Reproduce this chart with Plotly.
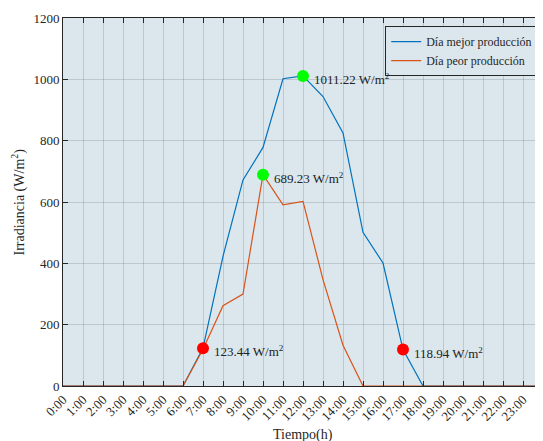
import plotly.graph_objects as go

hours = list(range(25))
tick_labels = [f"{h}:00" for h in range(24)] + [""]
best_day = [0, 0, 0, 0, 0, 0, 0, 123.44, 423, 672, 778, 1002, 1011.22, 944, 825, 501, 401, 118.94, 0, 0, 0, 0, 0, 0, 0]
worst_day = [0, 0, 0, 0, 0, 0, 0, 120, 262, 300, 689.23, 591, 602, 347, 133, 0, 0, 0, 0, 0, 0, 0, 0, 0, 0]
max_hours = [12, 10]
max_vals = [1011.22, 689.23]
edge_hours = [7, 17]
edge_vals = [123.44, 118.94]

font_family = "Liberation Serif, Times New Roman, serif"
fig = go.Figure()
fig.add_trace(go.Scatter(x=hours, y=best_day, mode="lines", name="Día mejor producción",
                         line=dict(color="#0072BD", width=1.2)))
fig.add_trace(go.Scatter(x=hours, y=worst_day, mode="lines", name="Día peor producción",
                         line=dict(color="#D95319", width=1.2)))
fig.add_trace(go.Scatter(x=max_hours, y=max_vals, mode="markers", showlegend=False,
                         marker=dict(color="#00FF00", size=12)))
fig.add_trace(go.Scatter(x=edge_hours, y=edge_vals, mode="markers", showlegend=False,
                         marker=dict(color="#FF0000", size=12)))

for xh, yv in zip(max_hours + edge_hours, max_vals + edge_vals):
    fig.add_annotation(x=xh, y=yv, text=f"{yv:.2f} W/m<sup>2</sup>", showarrow=False,
                       xanchor="left", yanchor="middle", xshift=9, yshift=-3,
                       font=dict(family=font_family, size=13, color="#222"))

fig.add_annotation(x=0.5, y=0, xref="paper", yref="paper", yshift=-39, text="Tiempo(h)",
                   showarrow=False, xanchor="center", yanchor="top",
                   font=dict(family=font_family, size=14, color="#262626"))
fig.add_annotation(x=0, y=0.5, xref="paper", yref="paper", xshift=-33, text="Irradiancia (W/m<sup>2</sup>)",
                   showarrow=False, textangle=-90, xanchor="right", yanchor="middle",
                   font=dict(family=font_family, size=14, color="#262626"))

axis_common = dict(showline=True, linecolor="#262626", linewidth=1, mirror="allticks",
                   ticks="inside", ticklen=5, tickcolor="#262626", showgrid=True,
                   gridcolor="rgba(130,140,150,0.35)", gridwidth=1, zeroline=False,
                   automargin=False,
                   tickfont=dict(family=font_family, size=13, color="#262626"))

fig.update_xaxes(range=[0, 24], tickmode="array", tickvals=hours, ticktext=tick_labels,
                 tickangle=-45, **axis_common)
fig.update_yaxes(range=[0, 1200], tickmode="array", tickvals=[0, 200, 400, 600, 800, 1000, 1200],
                 **axis_common)

# page body has an 8px margin; the plot area is offset to sit at x 63-543, y 18-386 in the window
fig.update_layout(width=535, height=433, margin=dict(l=55, r=0, t=10, b=55, autoexpand=False),
                  paper_bgcolor="white", plot_bgcolor="#DCE7ED",
                  font=dict(family=font_family, color="#262626"),
                  legend=dict(x=0.99, y=0.978, xanchor="right", yanchor="top",
                              bgcolor="#DCE7ED", bordercolor="#262626", borderwidth=1,
                              font=dict(family=font_family, size=12), tracegroupgap=0,
                              itemwidth=30))

fig.write_html("out.html")
